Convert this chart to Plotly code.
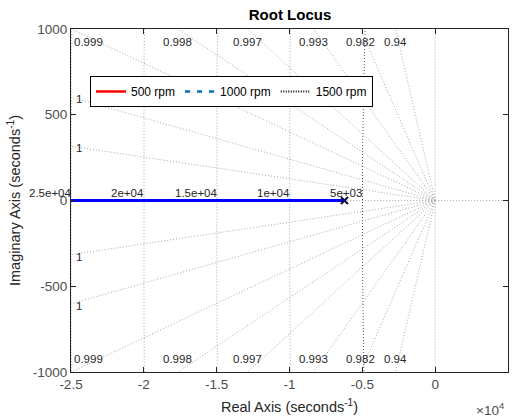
import numpy as np
import plotly.graph_objects as go

# ---- data ----
x_tick_vals = [-25000, -20000, -15000, -10000, -5000, 0, 5000]
x_tick_text = ["-2.5", "-2", "-1.5", "-1", "-0.5", "0", "0.5"]
y_tick_vals = [-1000, -500, 0, 500, 1000]
y_tick_text = ["-1000", "-500", "0", "500", "1000"]

# root locus branch (real axis) and open-loop pole
locus_real = [-25000, -6224]
locus_imag = [0, 0]
pole_real = [-6224]
pole_imag = [0]

# s-grid: damping ratios and natural frequencies
zeta_vals = [0.99992, 0.99971, 0.9992, 0.9984, 0.9970, 0.9929, 0.9815, 0.9385]
zeta_text = ["1", "1", "0.999", "0.998", "0.997", "0.993", "0.982", "0.94"]
wn_vals = [5000, 10000, 15000, 20000, 25000]
wn_text = ["5e+03", "1e+04", "1.5e+04", "2e+04", "2.5e+04"]

legend_names = ["500 rpm", "1000 rpm", "1500 rpm"]

XMIN, XMAX = -25000, 5000
YMIN, YMAX = -1000, 1000

FONT = "Liberation Sans, Arial, sans-serif"
GRID = "#a8a8a8"
TXT = "#262626"

fig = go.Figure()

# natural-frequency semicircles
t = np.linspace(-np.pi / 2, np.pi / 2, 721)
for r in wn_vals:
    col = "#555555" if r == wn_vals[0] else GRID
    fig.add_trace(go.Scatter(x=-r * np.cos(t), y=r * np.sin(t), mode="lines",
                             line=dict(color=col, width=1, dash="1px,2px"),
                             showlegend=False, hoverinfo="skip"))

# damping rays
R = 60000
for z in zeta_vals:
    s = np.sqrt(1 - z * z)
    fig.add_trace(go.Scatter(x=[0, -R * z, None, 0, -R * z], y=[0, R * s, None, 0, -R * s],
                             mode="lines", line=dict(color=GRID, width=1, dash="1px,2px"),
                             showlegend=False, hoverinfo="skip"))
# real and imaginary axes of the grid
fig.add_trace(go.Scatter(x=[0, -R, None, 0, R], y=[0, 0, None, 0, 0], mode="lines",
                         line=dict(color=GRID, width=1, dash="1px,2px"),
                         showlegend=False, hoverinfo="skip"))
fig.add_trace(go.Scatter(x=[0, 0, None, 0, 0], y=[0, R, None, 0, -R], mode="lines",
                         line=dict(color=GRID, width=1, dash="1px,2px"),
                         showlegend=False, hoverinfo="skip"))

# locus
fig.add_trace(go.Scatter(x=locus_real, y=locus_imag, mode="lines",
                         line=dict(color="#0000ff", width=3),
                         showlegend=False, hoverinfo="skip"))
fig.add_trace(go.Scatter(x=pole_real, y=pole_imag, mode="markers",
                         marker=dict(symbol="x-thin", size=7, line=dict(color="#101040", width=2)),
                         showlegend=False, hoverinfo="skip"))

# legend entries
styles = [dict(color="#ff0000", width=2.5, dash="solid"),
          dict(color="#0072bd", width=2.5, dash="5px,7px"),
          dict(color="#000000", width=2, dash="1px,1.5px")]
for name, st in zip(legend_names, styles):
    fig.add_trace(go.Scatter(x=[None], y=[None], mode="lines", name=name, line=st))

annotations = []
# damping labels
for z, lab in zip(zeta_vals, zeta_text):
    slope = np.sqrt(1 - z * z) / z
    xc = -YMAX / slope
    if xc < XMIN:
        yc = -XMIN * slope
        for sgn in (1, -1):
            annotations.append(dict(x=XMIN, y=sgn * yc, text=lab, showarrow=False,
                                    xanchor="left", yanchor="middle", xshift=3, yshift=-2,
                                    font=dict(size=11.5, color=TXT, family=FONT)))
    else:
        xl = max(xc, XMIN + 1200)
        for sgn, ysh in ((1, -13), (-1, 13)):
            annotations.append(dict(x=xl, y=sgn * YMAX, text=lab, showarrow=False,
                                    xanchor="center", yanchor="middle", yshift=ysh,
                                    font=dict(size=11.5, color=TXT, family=FONT)))
# natural frequency labels
for r, lab in zip(wn_vals, wn_text):
    annotations.append(dict(x=-r, y=0, text=lab, showarrow=False, xanchor="right",
                            yanchor="bottom", xshift=2, yshift=0,
                            font=dict(size=11.5, color=TXT, family=FONT)))
# exponent label
annotations.append(dict(x=1, y=0, xref="paper", yref="paper", text="×10<sup>4</sup>",
                        showarrow=False, xanchor="right", yanchor="top", yshift=-26, xshift=-2,
                        font=dict(size=13.5, color="#4d4d4d", family=FONT)))

axis_common = dict(showgrid=False, zeroline=False, ticks="inside", ticklen=5,
                   tickcolor="#262626", linecolor="#262626", linewidth=1, mirror="ticks",
                   showline=True, automargin=False,
                   tickfont=dict(size=13.5, color="#4d4d4d", family=FONT))

fig.update_layout(
    width=516, height=420,
    margin=dict(l=71, r=8, t=29, b=48),
    paper_bgcolor="white", plot_bgcolor="white",
    title=dict(text="<b>Root Locus</b>", x=0.562, xanchor="center", y=0.964, yanchor="middle",
               font=dict(size=15, color="#000000", family=FONT)),
    xaxis=dict(range=[XMIN, XMAX], tickvals=x_tick_vals, ticktext=x_tick_text,
               title=dict(text="Real Axis (seconds<sup>-1</sup>)", standoff=10,
                          font=dict(size=14.5, color="#262626", family=FONT)), **axis_common),
    yaxis=dict(range=[YMIN, YMAX], tickvals=y_tick_vals, ticktext=y_tick_text,
               title=dict(text="Imaginary Axis (seconds<sup>-1</sup>)", standoff=8,
                          font=dict(size=14.5, color="#262626", family=FONT)), **axis_common),
    legend=dict(orientation="h", x=0.0435, y=0.863, xanchor="left", yanchor="top",
                bgcolor="white", bordercolor="#000000", borderwidth=1,
                font=dict(size=12, color="#000000", family=FONT),
                itemwidth=30, tracegroupgap=0),
    annotations=annotations,
    showlegend=True,
)

fig.write_html("out.html", config={"displayModeBar": False},
               post_script="document.body.style.margin='0px';")
